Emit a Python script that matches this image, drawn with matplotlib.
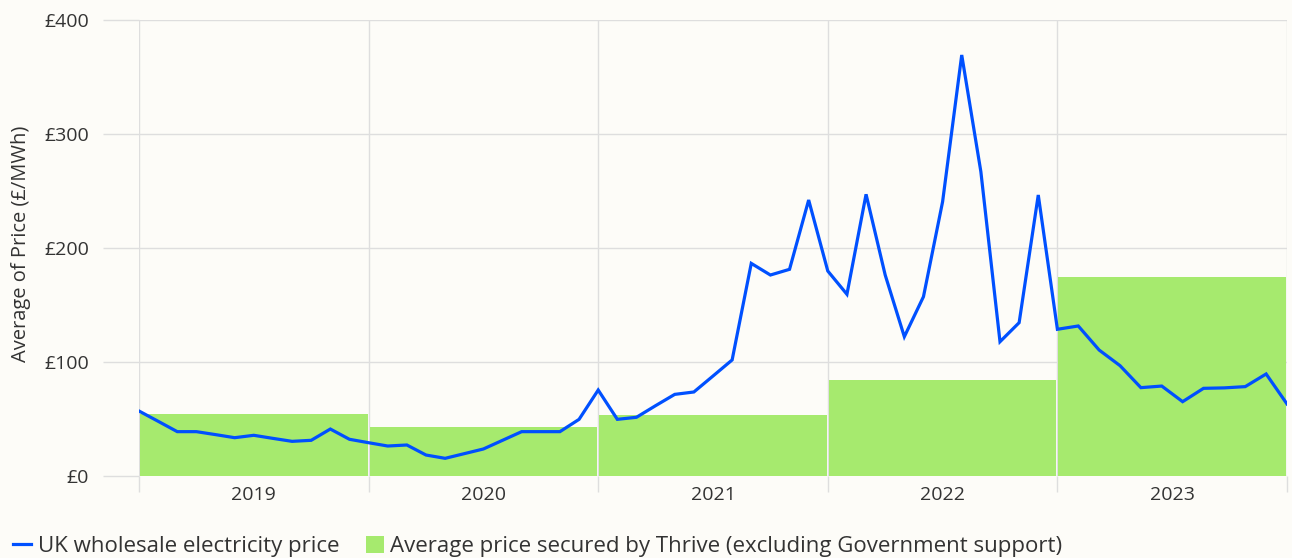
import matplotlib
matplotlib.use("Agg")
import matplotlib.pyplot as plt
from matplotlib.lines import Line2D
from matplotlib.patches import Patch
import numpy as np

plt.rcParams["font.family"] = ["Open Sans", "DejaVu Sans"]

# Yearly average price secured (GBP/MWh)
years = ["2019", "2020", "2021", "2022", "2023"]
secured_price = [54.5, 43.0, 53.5, 84.0, 174.8]

# Monthly UK wholesale electricity price (GBP/MWh), Jan..Dec
wholesale_2019 = [57.0, 48.0, 38.9, 38.9, 36.3, 33.6, 35.7, 33.0, 30.4, 31.3, 41.2, 32.2]
wholesale_2020 = [29.2, 26.3, 27.2, 18.4, 15.5, 19.6, 23.7, 31.3, 38.9, 38.9, 38.9, 49.7]
wholesale_2021 = [75.4, 49.7, 51.5, 61.7, 71.6, 73.7, 87.7, 101.8, 186.5, 176.3, 181.3, 242.1]
wholesale_2022 = [179.8, 159.4, 247.1, 176.3, 122.2, 157.3, 240.6, 369.3, 266.9, 117.8, 134.5, 246.5]
wholesale_2023 = [128.7, 131.6, 110.5, 96.8, 77.5, 78.9, 65.2, 76.9, 77.3, 78.4, 89.5, 63.2]

monthly = [wholesale_2019, wholesale_2020, wholesale_2021, wholesale_2022, wholesale_2023]

BLUE = "#0050ff"
GREEN = "#a6ea6e"
GRID = "#dedede"
TEXT = "#333333"
BG = "#fdfcf8"

# each year occupies one unit on x; months spread inside it,
# the final year is stretched so the series ends at the right edge
xs, ys = [], []
for i, vals in enumerate(monthly):
    step = 12 if i < len(monthly) - 1 else len(vals) - 1
    for j, v in enumerate(vals):
        xs.append(i + j / step)
        ys.append(v)

fig = plt.figure(figsize=(12.92, 5.58), dpi=100, facecolor=BG)
ax = fig.add_axes([139 / 1292, 1 - 476 / 558, 1148 / 1292, 456 / 558])
ax.set_facecolor(BG)

ax.bar(np.arange(len(years)) + 0.004, secured_price, width=0.992, align="edge",
       color=GREEN, zorder=2)
ax.plot(xs, ys, color=BLUE, lw=2.3, zorder=3, solid_joinstyle="miter")

ax.set_xlim(0, len(years))
ax.set_ylim(0, 400)

ax.set_xticks(np.arange(len(years) + 1))
ax.set_xticklabels([])
ax.set_xticks(np.arange(len(years)) + 0.5, minor=True)
ax.set_xticklabels(years, minor=True)
ax.tick_params(axis="x", which="major", length=11.5, width=1, color=GRID)
ax.tick_params(axis="x", which="minor", length=0, pad=7, labelsize=14,
               labelcolor=TEXT)

ax.set_yticks([0, 100, 200, 300, 400])
ax.set_yticklabels(["£0", "£100", "£200", "£300", "£400"])
ax.tick_params(axis="y", length=26, width=1, color=GRID, pad=10,
               labelsize=14, labelcolor=TEXT)

ax.grid(True, which="major", color=GRID, lw=1)
ax.set_axisbelow(True)
for s in ax.spines.values():
    s.set_visible(False)

ax.set_ylabel("Average of Price (£/MWh)", fontsize=14.5, color=TEXT)
ax.yaxis.set_label_coords(-0.094, 0.509)

handles = [
    Line2D([], [], color=BLUE, lw=2.3),
    Patch(facecolor=GREEN, edgecolor="none"),
]
labels = ["UK wholesale electricity price",
          "Average price secured by Thrive (excluding Government support)"]
fig.legend(handles, labels, loc="lower left", bbox_to_anchor=(0.0, -0.022),
           ncol=2, frameon=False, fontsize=16, labelcolor=TEXT,
           handlelength=0.8, handleheight=0.8, handletextpad=0.3,
           columnspacing=1.2, borderaxespad=0.2)

fig.savefig("out.png", dpi=100, facecolor=BG)
